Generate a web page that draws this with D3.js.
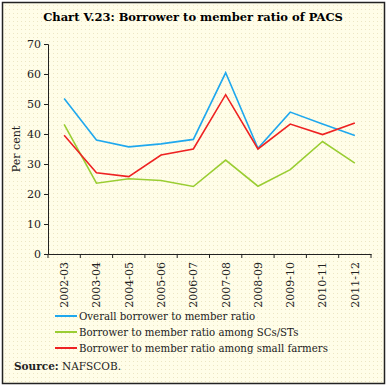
<!DOCTYPE html>
<html>
<head>
<meta charset="utf-8">
<script src="https://cdn.jsdelivr.net/npm/d3@7"></script>
<style>
  body { margin: 0; background: #fff; }
  svg { display: block; }
</style>
</head>
<body>
<div id="chart"></div>
<script>
const years = ['2002-03', '2003-04', '2004-05', '2005-06', '2006-07',
               '2007-08', '2008-09', '2009-10', '2010-11', '2011-12'];
const overall = [51.8, 38.0, 35.7, 36.7, 38.2, 60.4, 35.2, 47.3, 43.3, 39.5];
const scst = [43.2, 23.6, 25.1, 24.5, 22.5, 31.3, 22.6, 28.1, 37.5, 30.3];
const smallFarmers = [39.6, 27.1, 25.8, 33.0, 35.0, 53.1, 35.0, 43.3, 39.8, 43.7];
const yTicks = [0, 10, 20, 30, 40, 50, 60, 70];

const series = [
    { name: 'Overall borrower to member ratio', values: overall, color: '#1fa8ee' },
    { name: 'Borrower to member ratio among SCs/STs', values: scst, color: '#9acd32' },
    { name: 'Borrower to member ratio among small farmers', values: smallFarmers, color: '#ee2222' }
];

const width = 387, height = 386;
const margin = { top: 44, left: 48, right: 16, bottom: 132 };
const serif = '"DejaVu Serif", "Liberation Serif", serif';

const svg = d3.select('#chart')
    .append('svg')
        .attr('width', width)
        .attr('height', height);

// dotted cream background
const defs = svg.append('defs');
const pat = defs.append('pattern')
    .attr('id', 'dots')
    .attr('width', 4)
    .attr('height', 4)
    .attr('patternUnits', 'userSpaceOnUse');
pat.append('rect').attr('width', 4).attr('height', 4).attr('fill', '#fffde8');
pat.append('rect').attr('x', 1).attr('y', 1).attr('width', 1).attr('height', 1).attr('fill', '#ece6c4');

svg.append('rect')
    .attr('x', 2.5).attr('y', 2.5)
    .attr('width', width - 5).attr('height', height - 5)
    .attr('fill', 'url(#dots)')
    .attr('stroke', '#222')
    .attr('stroke-width', 1.5);

svg.append('text')
    .attr('x', 193)
    .attr('y', 21)
    .attr('text-anchor', 'middle')
    .style('font-family', serif)
    .style('font-weight', 'bold')
    .style('font-size', '11.5px')
    .text('Chart V.23: Borrower to member ratio of PACS');

const x = d3.scaleBand()
    .domain(years)
    .range([margin.left, 371]);

const y = d3.scaleLinear()
    .domain([0, 70])
    .range([254, margin.top]);

const g = svg.append('g');

// y axis
const yAxis = g.append('g')
    .attr('transform', `translate(${margin.left},0)`)
    .call(d3.axisLeft(y).tickValues(yTicks).tickSize(4).tickSizeOuter(4));
yAxis.selectAll('text')
    .style('font-family', serif)
    .style('font-size', '11px')
    .attr('fill', '#222');
yAxis.selectAll('path, line').attr('stroke', '#222');

// x axis
const xAxis = g.append('g')
    .attr('transform', `translate(0,${y(0)})`)
    .call(d3.axisBottom(x).tickSize(0).tickSizeOuter(0));
xAxis.select('.domain').attr('stroke', '#222');
xAxis.selectAll('.tick line').remove();
xAxis.selectAll('text')
    .style('font-family', serif)
    .style('font-size', '11px')
    .attr('fill', '#222')
    .attr('transform', 'rotate(-90)')
    .attr('text-anchor', 'end')
    .attr('x', -8)
    .attr('y', 0)
    .attr('dy', '0.35em');

// band edge ticks on x axis
const edges = years.map(d => x(d)).concat([x.range()[1]]);
g.selectAll('.xedge')
    .data(edges)
    .join('line')
        .attr('class', 'xedge')
        .attr('x1', d => d).attr('x2', d => d)
        .attr('y1', y(0)).attr('y2', y(0) + 4)
        .attr('stroke', '#222');

svg.append('text')
    .attr('transform', `translate(20,${y(35)}) rotate(-90)`)
    .attr('text-anchor', 'middle')
    .style('font-family', serif)
    .style('font-size', '11px')
    .attr('fill', '#222')
    .text('Per cent');

const line = d3.line()
    .x((d, i) => x(years[i]) + x.bandwidth() / 2)
    .y(d => y(d));

g.selectAll('.series')
    .data(series)
    .join('path')
        .attr('class', 'series')
        .attr('d', d => line(d.values))
        .attr('fill', 'none')
        .attr('stroke', d => d.color)
        .attr('stroke-width', 1.6);

// legend
const legend = svg.append('g')
    .selectAll('g')
    .data(series)
    .join('g')
        .attr('transform', (d, i) => `translate(55,${316 + i * 16})`);
legend.append('line')
    .attr('x1', 0).attr('x2', 22)
    .attr('stroke', d => d.color)
    .attr('stroke-width', 2);
legend.append('text')
    .attr('x', 24)
    .attr('dy', '0.35em')
    .style('font-family', serif)
    .style('font-size', '10.2px')
    .attr('fill', '#222')
    .text(d => d.name);

const src = svg.append('text')
    .attr('x', 14)
    .attr('y', 370)
    .style('font-family', serif)
    .style('font-size', '10.5px')
    .attr('fill', '#222');
src.append('tspan').style('font-weight', 'bold').text('Source:');
src.append('tspan').text(' NAFSCOB.');
</script>
</body>
</html>
